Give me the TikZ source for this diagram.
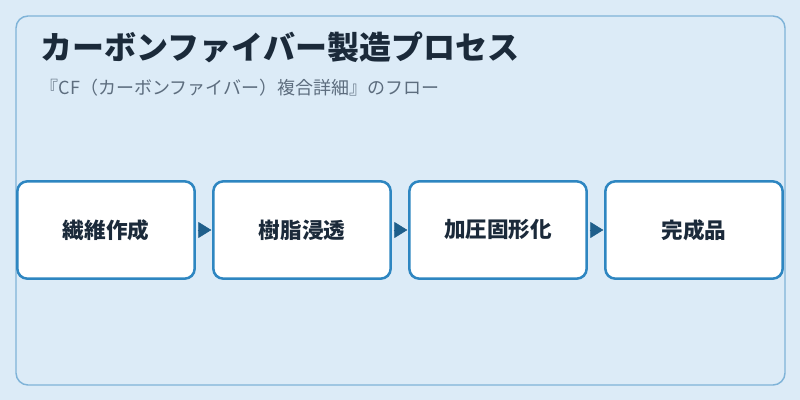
\documentclass[tikz,border=0pt]{standalone}
\usepackage{fontspec}
\setmainfont{Noto Sans CJK JP}
\usepackage{xcolor}
\usetikzlibrary{positioning, arrows.meta}
\definecolor{bgblue}{HTML}{DCEBF7}
\definecolor{framec}{HTML}{7FB3D8}
\definecolor{boxc}{HTML}{2E86C1}
\definecolor{arrowc}{HTML}{1F5F8B}
\definecolor{titlec}{HTML}{1B2A3A}
\definecolor{subc}{HTML}{5D6D7E}
\tikzstyle{proc} = [rectangle, rounded corners=7.5pt, minimum width=133pt, minimum height=73pt, outer sep=0pt, line width=1.9pt, draw=boxc, fill=white, text=titlec, font=\fontsize{16.2pt}{19pt}\selectfont\bfseries]
\tikzstyle{flow} = [-{Triangle[length=9.75pt, width=12pt]}, arrowc, line width=0.4pt, shorten <=2.2pt, shorten >=1.5pt]

\begin{document}
\begin{tikzpicture}[x=0.75pt, y=-0.75pt, node distance=14pt]
		\path[use as bounding box, fill=bgblue] (0,0) rectangle (800,400);
		\draw[framec, line width=1.1pt, rounded corners=9pt] (16,16) rectangle (785,385);
		\node[anchor=west, text=titlec, font=\fontsize{24pt}{29pt}\selectfont\bfseries] (title) at (36,47) {カーボンファイバー製造プロセス};
		\node[anchor=west, text=subc, font=\fontsize{13.5pt}{16pt}\selectfont] (subtitle) at (36,88) {『CF（カーボンファイバー）複合詳細』のフロー};
		\node[proc] (fiber) at (106,230) {繊維作成};
		\node[proc, right=of fiber] (resin) {樹脂浸透};
		\node[proc, right=of resin] (press) {加圧固形化};
		\node[proc, right=of press] (product) {完成品};
		\draw[flow] (fiber) -- (resin);
		\draw[flow] (resin) -- (press);
		\draw[flow] (press) -- (product);
	\end{tikzpicture}
\end{document}
